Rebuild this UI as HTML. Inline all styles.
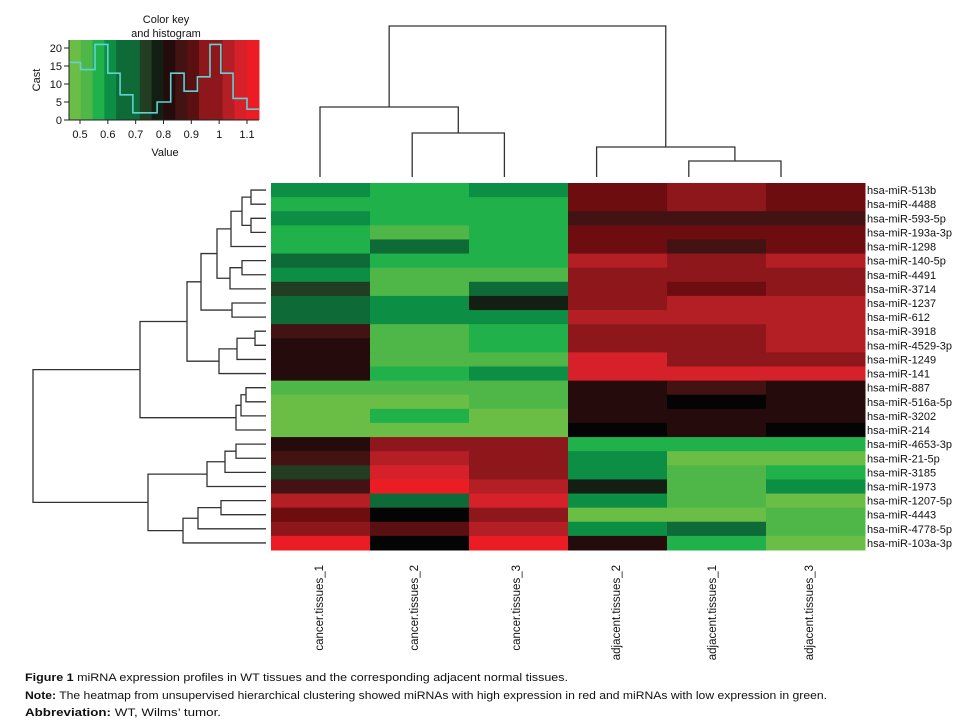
<!DOCTYPE html>
<html><head><meta charset="utf-8"><style>
body{margin:0;background:#fff;}
svg{display:block;font-family:"Liberation Sans",sans-serif;}
</style></head><body>
<svg id="fig" width="975" height="721" viewBox="0 0 975 721"></svg>
<script>
const rowLabels=["hsa-miR-513b","hsa-miR-4488","hsa-miR-593-5p","hsa-miR-193a-3p","hsa-miR-1298","hsa-miR-140-5p","hsa-miR-4491","hsa-miR-3714","hsa-miR-1237","hsa-miR-612","hsa-miR-3918","hsa-miR-4529-3p","hsa-miR-1249","hsa-miR-141","hsa-miR-887","hsa-miR-516a-5p","hsa-miR-3202","hsa-miR-214","hsa-miR-4653-3p","hsa-miR-21-5p","hsa-miR-3185","hsa-miR-1973","hsa-miR-1207-5p","hsa-miR-4443","hsa-miR-4778-5p","hsa-miR-103a-3p"];
const colLabels=["cancer.tissues_1","cancer.tissues_2","cancer.tissues_3","adjacent.tissues_2","adjacent.tissues_1","adjacent.tissues_3"];
const values=[
[0.62,0.57,0.62,0.92,0.97,0.92],
[0.57,0.57,0.57,0.92,0.97,0.92],
[0.62,0.57,0.57,0.86,0.86,0.86],
[0.57,0.52,0.57,0.92,0.92,0.92],
[0.57,0.67,0.57,0.92,0.86,0.92],
[0.67,0.57,0.57,1.05,0.97,1.05],
[0.62,0.52,0.52,0.97,0.97,0.97],
[0.72,0.52,0.67,0.97,0.92,0.97],
[0.67,0.62,0.77,0.97,1.05,1.05],
[0.67,0.62,0.62,1.05,1.05,1.05],
[0.86,0.52,0.57,0.97,0.97,1.05],
[0.83,0.52,0.57,0.97,0.97,1.05],
[0.83,0.52,0.52,1.10,0.97,0.97],
[0.83,0.57,0.62,1.10,1.10,1.10],
[0.52,0.52,0.52,0.83,0.86,0.83],
[0.50,0.50,0.52,0.83,0.80,0.83],
[0.50,0.57,0.50,0.83,0.83,0.83],
[0.50,0.50,0.50,0.80,0.83,0.80],
[0.83,0.97,0.97,0.57,0.57,0.57],
[0.86,1.05,0.97,0.62,0.50,0.50],
[0.72,1.10,0.97,0.62,0.52,0.57],
[0.86,1.13,1.05,0.77,0.52,0.62],
[1.05,0.67,1.10,0.62,0.52,0.50],
[0.92,0.80,0.97,0.50,0.50,0.52],
[0.97,0.89,1.05,0.62,0.67,0.52],
[1.13,0.80,1.13,0.83,0.57,0.50]];
const palBreaks=[0.51,0.55,0.60,0.65,0.70,0.75,0.79,0.815,0.845,0.875,0.905,0.945,1.0,1.075,1.115];
const palColors=["#6abd45","#4fb748","#21b14b","#0c8f45","#0e6a37","#223d22","#141f14","#050404","#250b0b","#431213","#5a0f11","#6e0d10","#8e171b","#b41f25","#d6212a","#ec1c24"];
const histEdges=[0.46,0.502,0.554,0.60,0.644,0.69,0.777,0.826,0.874,0.922,0.967,1.006,1.05,1.10,1.143];
const histCounts=[16,14,21,13,7,2,5,13,8,12,21,13,6,3];
const keyTicks=[0.5,0.6,0.7,0.8,0.9,1,1.1];
const countTicks=[0,5,10,15,20];
const rowTree=[233,
 [126,
  [79,
   [65,
    [49,[35,[24,[15,0,1],[15,2,3]],4],[36,[24,5,6],7]],
    [34,8,9]],
   [47,[29,[11,10,11],12],13]],
  [30,[25,[20,14,15],16],17]],
 [118,
  [59,[41,[30,18,19],20],21],
  [83,[68,[45,22,23],24],25]]];
const colTree=[151,[70,0,[44,1,2]],[30,3,[16,4,5]]];

const svg=document.getElementById('fig');
const NS="http://www.w3.org/2000/svg";
function mk(t,a,p){const e=document.createElementNS(NS,t);for(const k in a)e.setAttribute(k,a[k]);(p||svg).appendChild(e);return e;}
function col(v){let i=0;while(i<palBreaks.length&&v>=palBreaks[i])i++;return palColors[i];}

const hmX0=271,hmX1=865,hmY0=183,hmY1=550;
const cw=(hmX1-hmX0)/colLabels.length, rh=(hmY1-hmY0)/rowLabels.length;
const xCol=i=>hmX0+i*cw, yRow=i=>hmY0+i*rh;
const gHm=mk('g',{});


values.forEach((r,ri)=>r.forEach((v,ci)=>{
 const c=mk('rect',{x:xCol(ci),y:yRow(ri),width:cw+0.5,height:rh+0.5,fill:col(v)},gHm);
 
 
}));
rowLabels.forEach((l,i)=>{
 const t=mk('text',{x:867,y:yRow(i)+rh/2+4,'font-size':11,fill:'#111'});t.textContent=l;
 
 
});
const colCenters=[319,414,516,616,712,809];
colLabels.forEach((l,i)=>{
 const t=mk('text',{transform:`translate(${colCenters[i]+4},565) rotate(-90)`,'text-anchor':'end','font-size':11.5,fill:'#111'});t.textContent=l;
 
 
});

const gRd=mk('g',{stroke:'#333','stroke-width':1.3,fill:'none'});


const leafX=266, rdX=h=>leafX-h;
function drawRow(n){
 if(typeof n==='number')return {y:yRow(n)+rh/2,x:leafX};
 const a=drawRow(n[1]),b=drawRow(n[2]),x=rdX(n[0]);
 mk('path',{d:`M${a.x},${a.y}H${x}V${b.y}H${b.x}`},gRd);
 return {y:(a.y+b.y)/2,x:x};
}
drawRow(rowTree);

const gCd=mk('g',{stroke:'#333','stroke-width':1.3,fill:'none'});


const leafY=177, cdY=h=>leafY-h, cLeafX=i=>320+i*92.2;
function drawCol(n){
 if(typeof n==='number')return {x:cLeafX(n),y:leafY};
 const a=drawCol(n[1]),b=drawCol(n[2]),y=cdY(n[0]);
 mk('path',{d:`M${a.x},${a.y}V${y}H${b.x}V${b.y}`},gCd);
 return {x:(a.x+b.x)/2,y:y};
}
drawCol(colTree);

const gK=mk('g',{});


const kx=v=>80+(v-0.5)*278.3, ky=c=>120-c*3.6;
for(let v=0.46;v<1.143;v+=0.0425){
 mk('rect',{x:kx(v),y:40,width:kx(Math.min(v+0.0425,1.143))-kx(v)+0.5,height:80,fill:col(v+0.02)},gK);
}
let d=`M${kx(histEdges[0])},${ky(histCounts[0])}`;
histCounts.forEach((c,i)=>{d+=`H${kx(histEdges[i+1])}`;if(i+1<histCounts.length)d+=`V${ky(histCounts[i+1])}`;});
const hp=mk('path',{d:d,stroke:'#5fd3d3','stroke-width':1.6,fill:'none'},gK);


mk('path',{d:'M69,40V120H259',stroke:'#222',fill:'none','stroke-width':1},gK);
countTicks.forEach(c=>{
 mk('line',{x1:64,x2:69,y1:ky(c),y2:ky(c),stroke:'#222'},gK);
 const t=mk('text',{x:62,y:ky(c)+4,'text-anchor':'end','font-size':11,fill:'#111'},gK);t.textContent=c;
});
keyTicks.forEach(v=>{
 mk('line',{x1:kx(v),x2:kx(v),y1:120,y2:124,stroke:'#222'},gK);
 const t=mk('text',{x:kx(v),y:138,'text-anchor':'middle','font-size':11,fill:'#111'},gK);t.textContent=v;
});
const yt=mk('text',{transform:'translate(40,80) rotate(-90)','text-anchor':'middle','font-size':11,fill:'#111'},gK);yt.textContent='Cast';


const xt=mk('text',{x:165,y:156,'text-anchor':'middle','font-size':11,fill:'#111'},gK);xt.textContent='Value';


const k1=mk('text',{x:166,y:23,'text-anchor':'middle','font-size':11,fill:'#111'},gK);k1.textContent='Color key';


const k2=mk('text',{x:166,y:37,'text-anchor':'middle','font-size':11,fill:'#111'},gK);k2.textContent='and histogram';


</script>
<svg width="975" height="721" style="position:absolute;left:0;top:0">
<text x="25" y="681" font-size="11" textLength="543" lengthAdjust="spacingAndGlyphs" fill="#111"><tspan font-weight="bold">Figure 1</tspan> miRNA expression profiles in WT tissues and the corresponding adjacent normal tissues.</text>
<text x="25" y="699" font-size="11" textLength="802" lengthAdjust="spacingAndGlyphs" fill="#111"><tspan font-weight="bold">Note:</tspan> The heatmap from unsupervised hierarchical clustering showed miRNAs with high expression in red and miRNAs with low expression in green.</text>
<text x="25" y="716" font-size="11" textLength="196" lengthAdjust="spacingAndGlyphs" fill="#111"><tspan font-weight="bold">Abbreviation:</tspan> WT, Wilms’ tumor.</text>
</svg>
</body></html>
